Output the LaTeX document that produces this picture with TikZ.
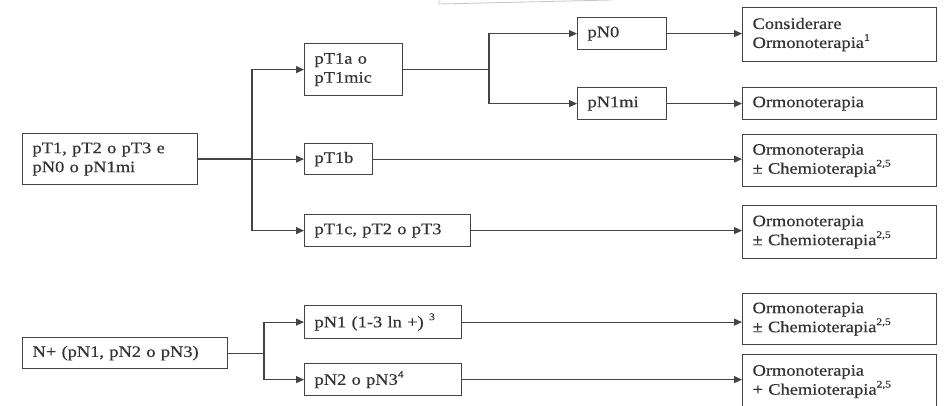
\documentclass[tikz,border=0pt]{standalone}
\usepackage{fontspec}
\setmainfont[FakeStretch=1.15,FakeBold=0.4]{Liberation Serif}
\usetikzlibrary{arrows.meta}
\definecolor{ink}{HTML}{333333}
\definecolor{edge}{HTML}{444444}
\tikzset{
  box/.style={draw=edge, line width=1.2pt, text=ink, inner xsep=10pt, inner ysep=0pt,
    align=left, anchor=north west, font=\fontsize{16}{19}\selectfont},
  conn/.style={draw=edge, line width=1.2pt},
  arr/.style={conn, -{Triangle[length=8pt,width=7pt]}}
}
\newcommand{\sps}[1]{\raisebox{0.45em}{\fontsize{10}{10}\selectfont #1}}
\begin{document}
\begin{tikzpicture}[x=1pt,y=-1pt]
\clip (0,0) rectangle (948,405);
\fill[white] (0,0) rectangle (948,405);
% fragment of a box cut by the top edge
\draw[gray!45, line width=0.8pt] (439,0) -- (439,4) -- (612,0);
% first tree
\node[box, text width=155pt, minimum height=51pt] (A) at (22,133) {pT1, pT2 o pT3 e\\pN0 o pN1mi};
\node[box, text width=78pt, minimum height=52pt] (T1a) at (304,43) {pT1a o\\pT1mic};
\node[box, text width=48pt, minimum height=31pt] (T1b) at (304,143) {pT1b};
\node[box, text width=146pt, minimum height=32pt] (T1c) at (304,214) {pT1c, pT2 o pT3};
\node[box, text width=69pt, minimum height=32pt] (N0) at (577,17) {pN0};
\node[box, text width=69pt, minimum height=32pt] (N1mi) at (577,87) {pN1mi};
\node[box, text width=174pt, minimum height=54pt] (R1) at (742,7) {Considerare\\Ormonoterapia\sps{1}};
\node[box, text width=174pt, minimum height=32pt] (R2) at (742,87) {Ormonoterapia};
\node[box, text width=174pt, minimum height=52pt] (R3) at (742,134) {Ormonoterapia\\\textpm\ Chemioterapia\sps{2,5}};
\node[box, text width=174pt, minimum height=53pt] (R4) at (742,205) {Ormonoterapia\\\textpm\ Chemioterapia\sps{2,5}};
% second tree
\node[box, text width=185pt, minimum height=31pt] (NP) at (22,337) {N+ (pN1, pN2 o pN3)};
\node[box, text width=137pt, minimum height=33pt] (N1) at (304,305) {pN1 (1-3 ln +) \sps{3}};
\node[box, text width=137pt, minimum height=32pt] (N23) at (304,363) {pN2 o pN3\sps{4}};
\node[box, text width=174pt, minimum height=51pt] (R5) at (742,293) {Ormonoterapia\\\textpm\ Chemioterapia\sps{2,5}};
\node[box, text width=174pt, minimum height=54pt] (R6) at (742,354) {Ormonoterapia\\+ Chemioterapia\sps{2,5}};
% junctions
\coordinate (j1) at (252,0 |- A.east);
\coordinate (j2) at (489,0 |- T1a.east);
\coordinate (j3) at (264,0 |- NP.east);
% connectors, first tree
\draw[conn, line width=1.7pt] (A.east) -- (j1);
\draw[arr] (j1) |- (T1a.west);
\draw[arr] (j1) -- (T1b.west);
\draw[arr] (j1) |- (T1c.west);
\draw[conn] (T1a.east) -- (j2);
\draw[arr] (j2) |- (N0.west);
\draw[arr] (j2) |- (N1mi.west);
\draw[arr] (N0.east) -- (N0.east -| R1.west);
\draw[arr] (N1mi.east) -- (N1mi.east -| R2.west);
\draw[arr] (T1b.east) -- (T1b.east -| R3.west);
\draw[arr] (T1c.east) -- (T1c.east -| R4.west);
% connectors, second tree
\draw[conn] (NP.east) -- (j3);
\draw[arr] (j3) |- (N1.west);
\draw[arr] (j3) |- (N23.west);
\draw[arr] (N1.east) -- (N1.east -| R5.west);
\draw[arr] (N23.east) -- (N23.east -| R6.west);
\end{tikzpicture}
\end{document}
